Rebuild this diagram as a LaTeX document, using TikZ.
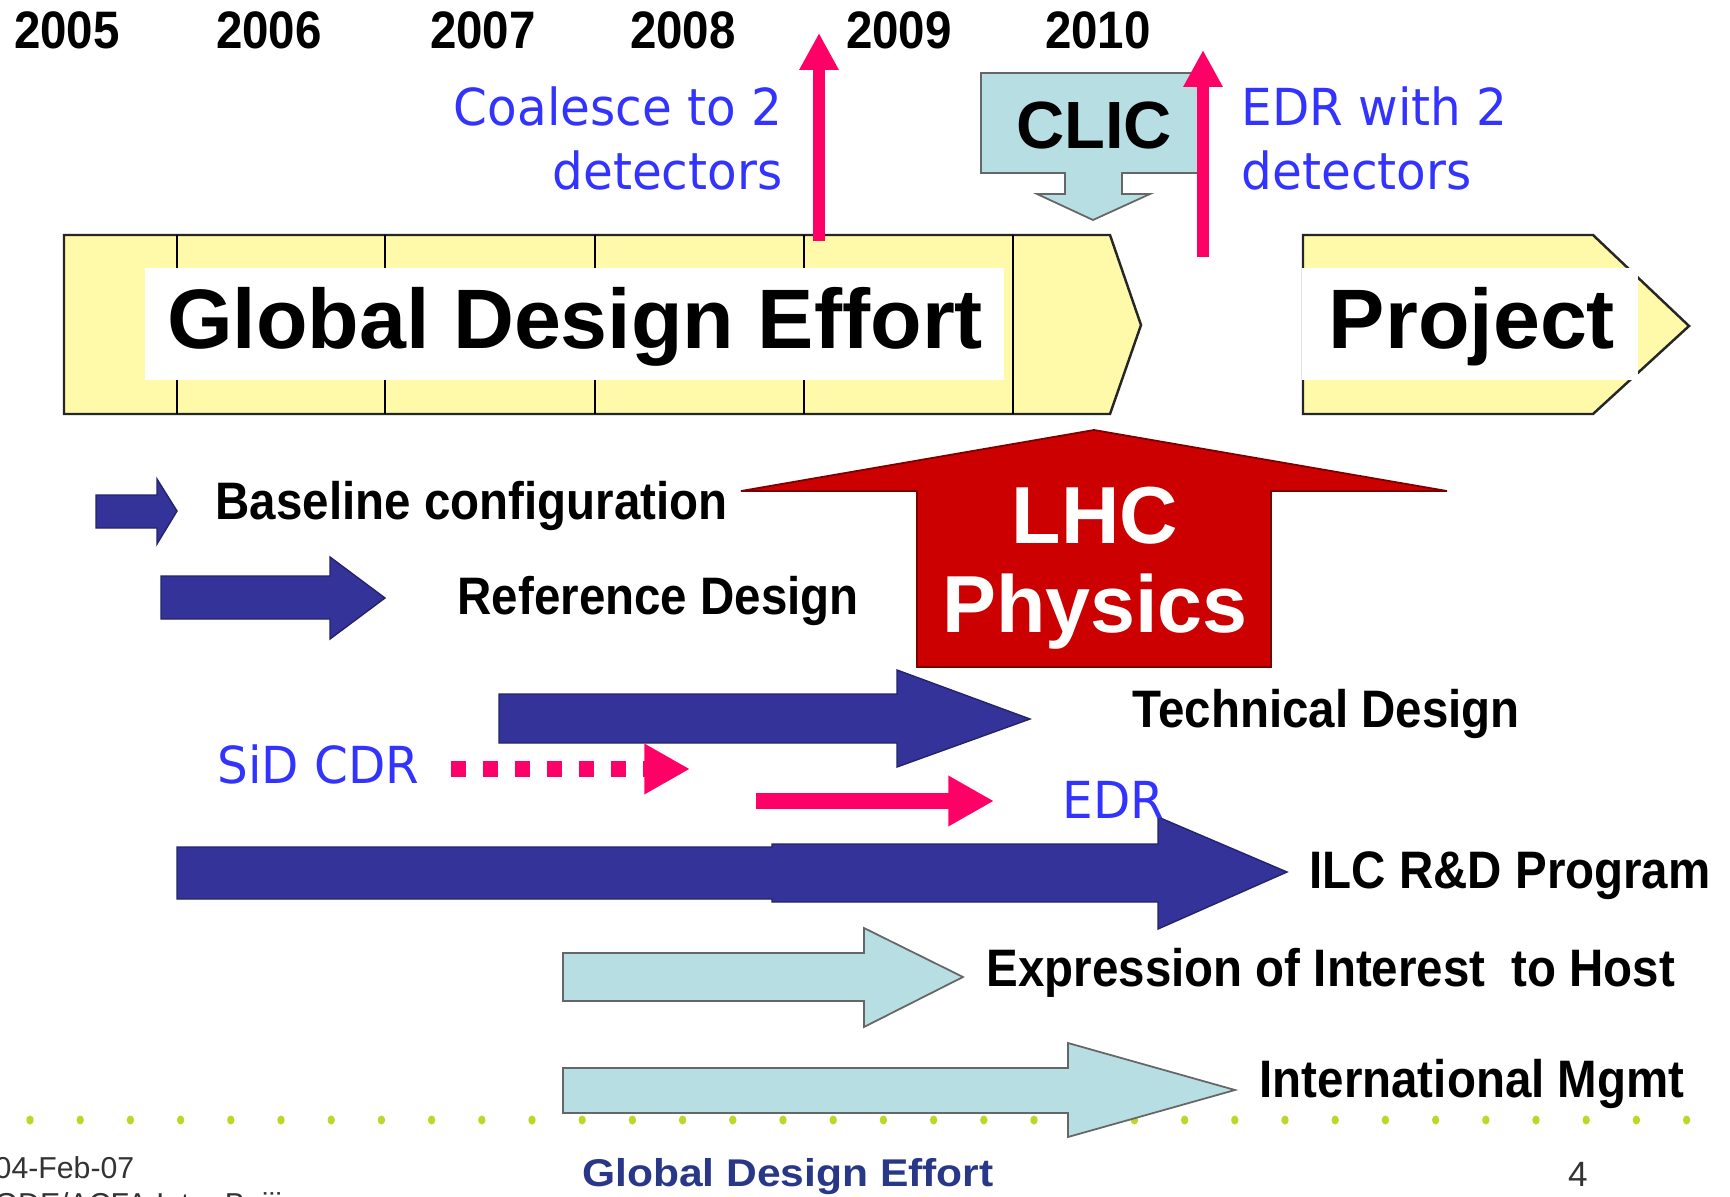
\documentclass[tikz,border=0pt]{standalone}
\usepackage{fontspec}
\setmainfont{Liberation Sans}
\newfontfamily\narrowsans{Liberation Sans}[FakeStretch=0.9]
\newfontfamily\widesans{Liberation Sans}[FakeStretch=1.1]
\newfontfamily\handsans{DejaVu Sans}[FakeStretch=0.95]
\usetikzlibrary{arrows.meta}

\definecolor{gdeyellow}{RGB}{255,250,170}
\definecolor{paleblue}{RGB}{183,222,226}
\definecolor{navyblue}{RGB}{51,51,153}
\definecolor{lhcred}{RGB}{204,0,0}
\definecolor{hotpink}{RGB}{255,0,102}
\definecolor{inkblue}{RGB}{51,51,255}
\definecolor{dotgreen}{RGB}{190,214,40}
\definecolor{footblue}{RGB}{40,55,135}

\tikzset{
  yearlbl/.style={font=\narrowsans\bfseries\fontsize{15}{18}\selectfont, anchor=base, inner sep=0pt},
  tasklbl/.style={font=\narrowsans\bfseries\fontsize{15}{18}\selectfont, anchor=base west, inner sep=0pt},
  bigword/.style={font=\bfseries\fontsize{24}{28}\selectfont, anchor=base, inner sep=0pt},
  handnote/.style={font=\handsans\fontsize{14.5}{17}\selectfont, text=inkblue, inner sep=0pt},
  bluearrow/.style={fill=navyblue, draw=navyblue!70!black, line width=0.4pt},
  palearrow/.style={fill=paleblue, draw=black!60, line width=0.5pt},
  gdebar/.style={fill=gdeyellow, draw=black!85, line width=0.7pt},
  pinkup/.style={draw=hotpink, line width=3.4pt, -{Triangle[length=10.5pt,width=10.5pt]}},
  pinkright/.style={draw=hotpink, line width=4.3pt, -{Triangle[length=13pt,width=13.5pt]}},
}

\begin{document}
\begin{tikzpicture}[x=0.01cm, y=-0.01cm]
\useasboundingbox[fill=white] (0,0) rectangle (1730,1197);

% dotted rule of the slide
\foreach \i in {0,...,33}
  \fill[dotgreen] ({30+50.2*\i},1120) ellipse [x radius=0.037cm, y radius=0.045cm];

% years
\node[yearlbl] (y2005) at (67,49)   {2005};
\node[yearlbl] (y2006) at (269,49)  {2006};
\node[yearlbl] (y2007) at (483,49)  {2007};
\node[yearlbl] (y2008) at (683,49)  {2008};
\node[yearlbl] (y2009) at (899,49)  {2009};
\node[yearlbl] (y2010) at (1098,49) {2010};

% GDE bar
\draw[gdebar] (64,235) -- (1110,235) -- (1141,325) -- (1110,414) -- (64,414) -- cycle;
\foreach \x in {177,385,595,804,1013}
  \draw[line width=0.5pt] (\x,235) -- (\x,414);
\fill[white] (145,268) rectangle (1004,380);
\node[bigword] (gde) at (575,348) {Global Design Effort};

% project bar
\draw[gdebar] (1303,235) -- (1593,235) -- (1689,326) -- (1593,414) -- (1303,414) -- cycle;
\fill[white] (1302,268) rectangle (1638,380);
\node[bigword] (project) at (1472,348) {Project};

% CLIC callout
\draw[palearrow] (981,73) -- (1200,73) -- (1200,173) -- (1122,173) -- (1122,194)
  -- (1150,194) -- (1093,220) -- (1037,194) -- (1065,194) -- (1065,173) -- (981,173) -- cycle;
\node[font=\bfseries\fontsize{19}{22}\selectfont, anchor=base, inner sep=0pt] (clic) at (1094,149) {CLIC};

% vertical pink arrows
\coordinate (coalfoot) at (819,241);
\coordinate (coaltip)  at (819,33);
\coordinate (edrfoot)  at (1203,257);
\coordinate (edrtip)   at (1203,50);
\draw[pinkup] (coalfoot) -- (coaltip);
\draw[pinkup] (edrfoot) -- (edrtip);

\node[handnote, anchor=base east] (coal1) at (783,126)  {Coalesce to 2};
\node[handnote, anchor=base east] (coal2) at (783,190)  {detectors};
\node[handnote, anchor=base west] (edrw1) at (1241,126) {EDR with 2};
\node[handnote, anchor=base west] (edrw2) at (1241,190) {detectors};

% LHC
\draw[fill=lhcred, draw=black!40!lhcred, line width=0.5pt] (1094,430) -- (1447,491) -- (1271,491)
  -- (1271,667) -- (917,667) -- (917,491) -- (741,491) -- cycle;
\node[font=\bfseries\fontsize{23}{26}\selectfont, text=white, anchor=base, inner sep=0pt] (lhc) at (1095,543) {LHC};
\node[font=\bfseries\fontsize{23}{26}\selectfont, text=white, anchor=base, inner sep=0pt] (physics) at (1095,632) {Physics};

% design phases
\draw[bluearrow] (96,495) -- (157,495) -- (157,479) -- (177,511) -- (157,544) -- (157,528) -- (96,528) -- cycle;
\node[tasklbl] (baseline) at (215,519) {Baseline configuration};

\draw[bluearrow] (161,576) -- (330,576) -- (330,557) -- (385,598) -- (330,639) -- (330,619) -- (161,619) -- cycle;
\node[tasklbl] (refdesign) at (457,614) {Reference Design};

\draw[bluearrow] (499,694) -- (897,694) -- (897,670) -- (1030,719) -- (897,767) -- (897,743) -- (499,743) -- cycle;
\node[tasklbl] (techdesign) at (1132,727) {Technical Design};

\draw[bluearrow] (177,847) -- (772,847) -- (772,844) -- (1158,844) -- (1158,817) -- (1287,872)
  -- (1158,929) -- (1158,902) -- (772,902) -- (772,899) -- (177,899) -- cycle;
\node[tasklbl] (ilcrd) at (1309,888) {ILC R\&D Program};

\draw[palearrow] (563,953) -- (864,953) -- (864,928) -- (963,977) -- (864,1027) -- (864,1001) -- (563,1001) -- cycle;
\node[tasklbl] (eoi) at (986,986) {Expression of Interest\ \ to Host};

\draw[palearrow] (563,1068) -- (1068,1068) -- (1068,1043) -- (1235,1090) -- (1068,1137) -- (1068,1113) -- (563,1113) -- cycle;
\node[tasklbl] (intlmgmt) at (1259,1097) {International Mgmt};

% detector notes
\node[handnote, anchor=base west] (sidcdr) at (217,783) {SiD CDR};
\node[handnote, anchor=base west] (edr) at (1062,818) {EDR};
\coordinate (sidfrom) at (451,769);
\coordinate (sidto)   at (690,769);
\coordinate (edrfrom) at (756,801);
\coordinate (edrto)   at (994,801);
\draw[pinkright, dash pattern=on 4.3pt off 4.8pt] (sidfrom) -- (sidto);
\draw[pinkright] (edrfrom) -- (edrto);

% footer
\node[font=\fontsize{8.6}{10}\selectfont, anchor=base west, inner sep=0pt, text=black!80] (date) at (-6,1178) {04-Feb-07};
\node[font=\fontsize{8.6}{10}\selectfont, anchor=base west, inner sep=0pt, text=black!80] (venue) at (-6,1214) {GDE/ACFA Intro Beijing};
\node[font=\widesans\bfseries\fontsize{11}{13}\selectfont, text=footblue, anchor=base, inner sep=0pt] (footer) at (788,1186) {Global Design Effort};
\node[font=\fontsize{10}{12}\selectfont, anchor=base, inner sep=0pt, text=black!80] (pagenum) at (1578,1186) {4};
\end{tikzpicture}
\end{document}
